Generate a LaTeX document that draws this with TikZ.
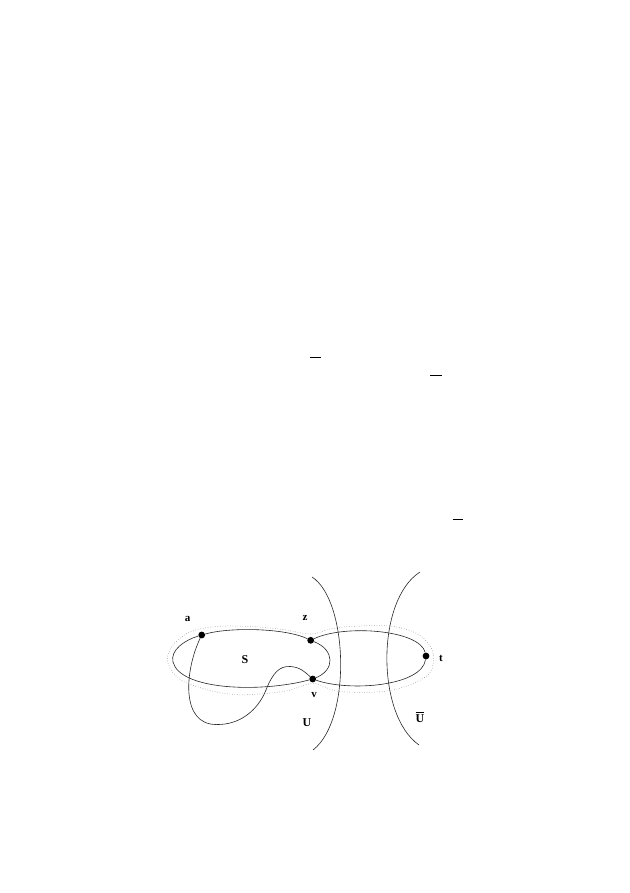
\documentclass[tikz,border=0pt]{standalone}
\usepackage{fontspec}
\setmainfont{Liberation Serif}
\newcommand{\barU}{\setbox0\hbox{U}\vbox{\hrule width\wd0 height 0.7pt\kern1.6pt\box0}}
\begin{document}
\begin{tikzpicture}[x=1pt,y=-1pt,
  curve/.style={black!85,line width=0.6pt},
  dotline/.style={black!55,line width=0.5pt,dotted},
  vtx/.style={circle,fill=black,inner sep=0pt,minimum size=6.8pt},
  lbl/.style={font=\bfseries\fontsize{11}{12}\selectfont,inner sep=0pt},
  biglbl/.style={font=\bfseries\fontsize{12}{13}\selectfont,inner sep=0pt},
  bar/.style={black,line width=1.2pt}]
\useasboundingbox (0,0) rectangle (629,893);
% short bars in the upper part
\coordinate (b1l) at (310,357.5); \coordinate (b1r) at (320.7,357.5);
\coordinate (b2l) at (430,375.5); \coordinate (b2r) at (441.7,375.5);
\coordinate (b3l) at (452.7,519.5); \coordinate (b3r) at (463.3,519.5);
\draw[bar] (b1l) -- (b1r);
\draw[bar] (b2l) -- (b2r);
\draw[bar] (b3l) -- (b3r);
% vertices
\node[vtx] (a) at (201.7,635) {};
\node[vtx] (z) at (310.7,640.3) {};
\node[vtx] (v) at (312.7,679) {};
\node[vtx] (t) at (426,656) {};
\coordinate (lend) at (173,662);
\coordinate (wb) at (216.7,724.5);
\coordinate (we) at (266,690);
\coordinate (wd) at (290,666.5);
% dotted outer loop
\draw[dotline] plot[smooth cycle,tension=0.6] coordinates {
  (310.5,634) (283,629.5) (250,626.5) (216.7,626.5) (190,632) (173,645) (167.5,660)
  (175,675) (192,685) (233,694.5) (283,691.5) (313,683.5)
  (340,691.5) (390,690.5) (426,676.5) (433.5,660) (430,646) (416.7,633.5) (390,626)
  (350,626.5) (330,629)};
% left loop
\draw[curve] (a) .. controls (230,627) and (285,628) .. (z);
\draw[curve] (z) .. controls (335,650) and (335,670) .. (v);
\draw[curve] (v) .. controls (260,693) and (180,690) .. (lend);
\draw[curve] (lend) .. controls (170,650) and (185,640) .. (a);
% right loop
\draw[curve] (z) .. controls (345,624) and (420,630) .. (t);
\draw[curve] (t) .. controls (422,686) and (350,692) .. (v);
% wiggle from a to v
\draw[curve] (a) .. controls (185,670) and (180,725) .. (wb);
\draw[curve] (wb) .. controls (240,725) and (258,710) .. (we);
\draw[curve] (we) .. controls (273,672) and (280,666) .. (wd);
\draw[curve] (wd) .. controls (300,667) and (305,672) .. (v);
% the two vertical curves
\coordinate (u1t) at (312,577); \coordinate (u1b) at (313,750);
\coordinate (u2t) at (420,572); \coordinate (u2b) at (419,745);
\draw[curve] (u1t) .. controls (348,600) and (352,720) .. (u1b);
\draw[curve] (u2t) .. controls (376,600) and (376,715) .. (u2b);
% labels
\node[lbl] (la) at (187.5,619) {a};
\node[lbl] (lz) at (305,617.5) {z};
\node[lbl] (lv) at (314,695) {v};
\node[lbl] (lt) at (441,658.5) {t};
\node[biglbl] (lS) at (245,660) {S};
\node[biglbl] (lU) at (307,723) {U};
\node[biglbl] (lUb) at (420,717.5) {\barU};
\end{tikzpicture}
\end{document}
